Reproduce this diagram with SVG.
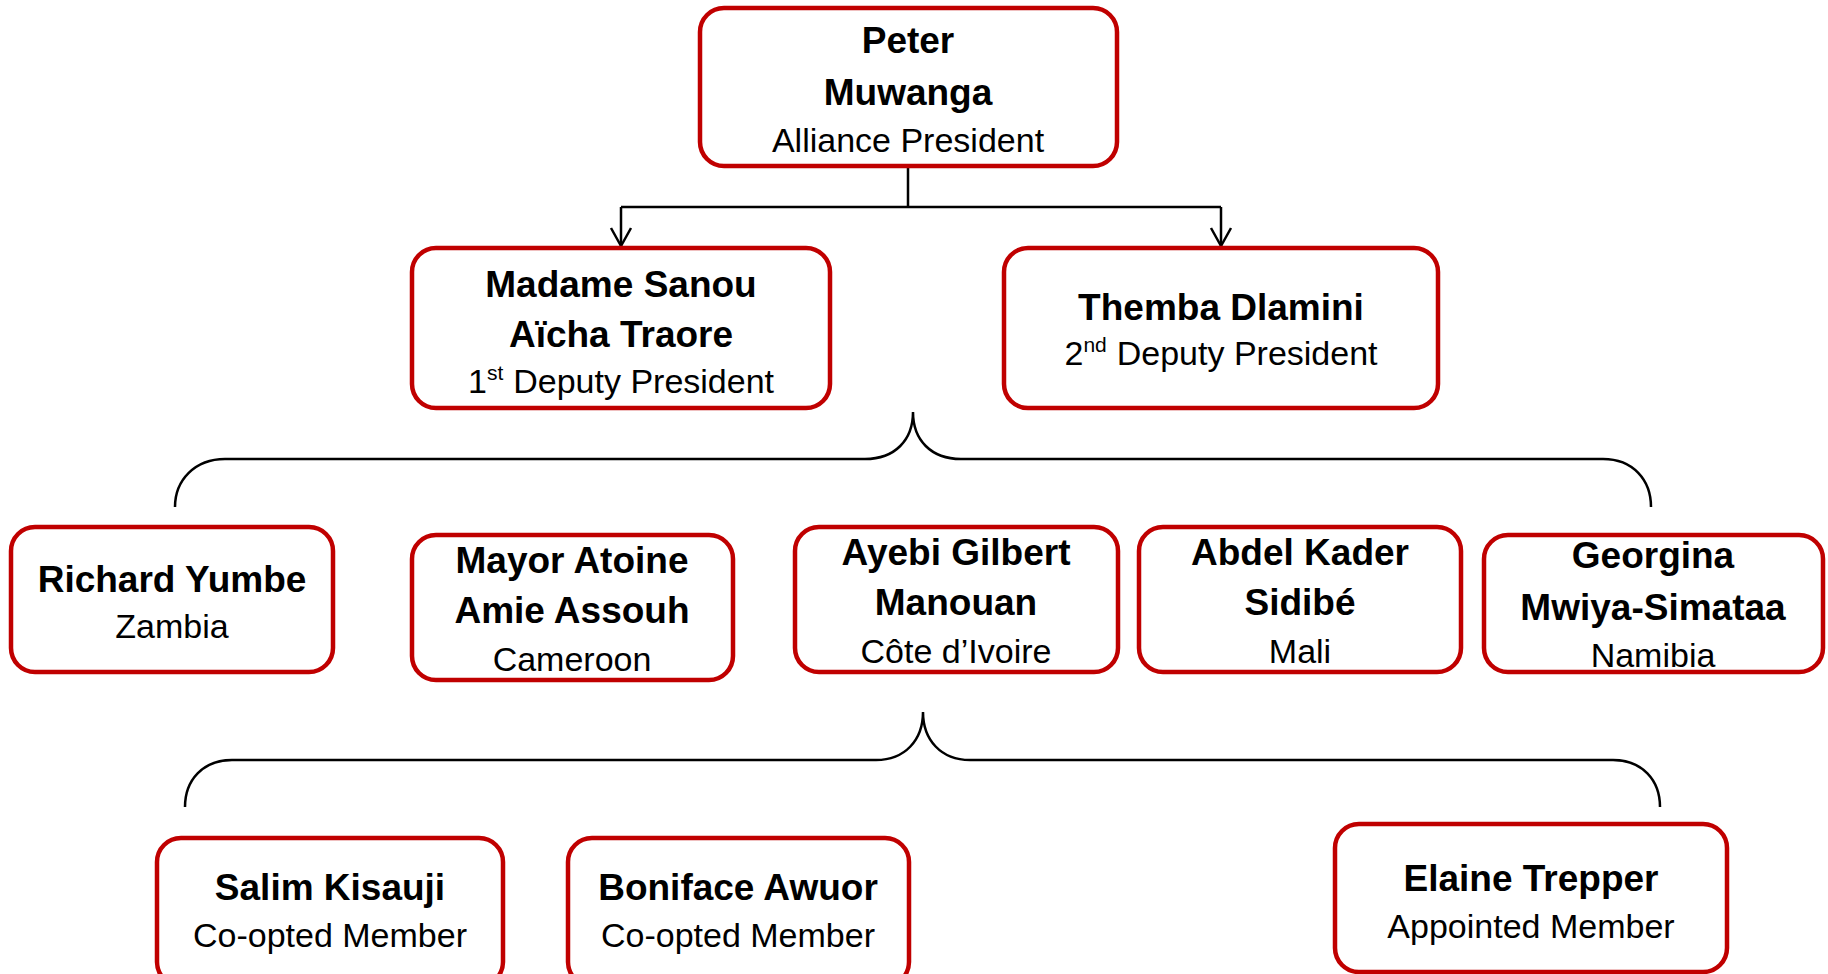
<svg xmlns="http://www.w3.org/2000/svg" width="1828" height="974" viewBox="0 0 1828 974">
<style>
.box{fill:#ffffff;stroke:#C00000;stroke-width:4.5}
.nm{font-family:"Liberation Sans",Arial,sans-serif;font-weight:bold;font-size:37px;fill:#000;text-anchor:middle}
.rl{font-family:"Liberation Sans",Arial,sans-serif;font-size:34px;fill:#000;text-anchor:middle}
.sup{font-size:21px}
.con{fill:none;stroke:#000;stroke-width:2.5}
</style>
<defs>
<marker id="arr" markerUnits="userSpaceOnUse" orient="auto" refX="0" refY="0" markerWidth="20" markerHeight="24" overflow="visible">
<path d="M-18,-10 L0,0 L-18,10" fill="none" stroke="#000" stroke-width="2.5"/>
</marker>
</defs>
<g id="connectors">
<path class="con" d="M908,166 V207 M621,207 H1221"/>
<path class="con" d="M621,207 V246" marker-end="url(#arr)"/>
<path class="con" d="M1221,207 V246" marker-end="url(#arr)"/>
<path class="con" d="M175,507 C175,480 195,459 225,459 H865 C895,459 913,440 913,412 C913,440 931,459 961,459 H1603 C1633,459 1651,480 1651,507"/>
<path class="con" d="M185,807 C185,780 203,760 232,760 H876 C905,760 923,740 923,712 C923,740 941,760 970,760 H1613 C1642,760 1660,780 1660,807"/>
</g>
<g id="peter">
<rect class="box" x="700" y="8" width="417" height="158" rx="24"/>
<text class="nm" x="908" y="53">Peter</text>
<text class="nm" x="908" y="105">Muwanga</text>
<text class="rl" x="908" y="152">Alliance President</text>
</g>
<g id="madame">
<rect class="box" x="412" y="248" width="418" height="160" rx="24"/>
<text class="nm" x="621" y="297">Madame Sanou</text>
<text class="nm" x="621" y="347">Aïcha Traore</text>
<text class="rl" x="621" y="393">1<tspan class="sup" dy="-13">st</tspan><tspan dy="13" dx="10">Deputy President</tspan></text>
</g>
<g id="themba">
<rect class="box" x="1004" y="248" width="434" height="160" rx="24"/>
<text class="nm" x="1221" y="320">Themba Dlamini</text>
<text class="rl" x="1221" y="365">2<tspan class="sup" dy="-13">nd</tspan><tspan dy="13" dx="10">Deputy President</tspan></text>
</g>
<g id="richard">
<rect class="box" x="11" y="527" width="322" height="145" rx="24"/>
<text class="nm" x="172" y="592">Richard Yumbe</text>
<text class="rl" x="172" y="638">Zambia</text>
</g>
<g id="mayor">
<rect class="box" x="412" y="535" width="321" height="145" rx="24"/>
<text class="nm" x="572" y="573">Mayor Atoine</text>
<text class="nm" x="572" y="623">Amie Assouh</text>
<text class="rl" x="572" y="671">Cameroon</text>
</g>
<g id="ayebi">
<rect class="box" x="795" y="527" width="323" height="145" rx="24"/>
<text class="nm" x="956" y="565">Ayebi Gilbert</text>
<text class="nm" x="956" y="615">Manouan</text>
<text class="rl" x="956" y="663">Côte d’Ivoire</text>
</g>
<g id="abdel">
<rect class="box" x="1139" y="527" width="322" height="145" rx="24"/>
<text class="nm" x="1300" y="565">Abdel Kader</text>
<text class="nm" x="1300" y="615">Sidibé</text>
<text class="rl" x="1300" y="663">Mali</text>
</g>
<g id="georgina">
<rect class="box" x="1484" y="535" width="339" height="137" rx="24"/>
<text class="nm" x="1653" y="568">Georgina</text>
<text class="nm" x="1653" y="620">Mwiya-Simataa</text>
<text class="rl" x="1653" y="667">Namibia</text>
</g>
<g id="salim">
<rect class="box" x="157" y="838" width="346" height="148" rx="24"/>
<text class="nm" x="330" y="900">Salim Kisauji</text>
<text class="rl" x="330" y="947">Co-opted Member</text>
</g>
<g id="boniface">
<rect class="box" x="568" y="838" width="341" height="148" rx="24"/>
<text class="nm" x="738" y="900">Boniface Awuor</text>
<text class="rl" x="738" y="947">Co-opted Member</text>
</g>
<g id="elaine">
<rect class="box" x="1335" y="824" width="392" height="148" rx="24"/>
<text class="nm" x="1531" y="891">Elaine Trepper</text>
<text class="rl" x="1531" y="938">Appointed Member</text>
</g>
</svg>
